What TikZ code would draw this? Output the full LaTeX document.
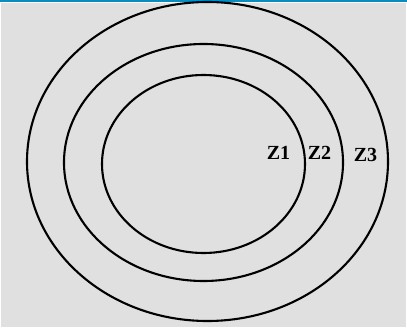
\documentclass[tikz,border=0pt]{standalone}
\usepackage{fontspec}
\setmainfont{Liberation Serif}
\usepackage{xcolor}
\usetikzlibrary{positioning}

\definecolor{panelgray}{RGB}{224,224,224}
\definecolor{barblue}{RGB}{10,140,192}

\begin{document}
\begin{tikzpicture}[
  x=1pt, y=1pt,
  zone/.style={draw=black, line width=2.1pt},
  zlabel/.style={font=\bfseries\fontsize{20}{20}\selectfont, inner sep=0pt}
]
\useasboundingbox (0,0) rectangle (407,327);
\fill[white] (0,0) rectangle (407,327);
\fill[panelgray] (1,0) rectangle (406,323.5);
\fill[barblue] (0,324.5) rectangle (407,327);

\draw[zone] (207.5,165.5) ellipse [x radius=180.5, y radius=159.5];
\draw[zone] (203.5,164.5) ellipse [x radius=139.5, y radius=118.5];
\draw[zone] (203.5,163) ellipse [x radius=101.5, y radius=89];

\node[zlabel] (z1) at (278.5,174) {Z1};
\node[zlabel] (z2) at (319.5,174) {Z2};
\node[zlabel] (z3) at (365.5,172.5) {Z3};
\end{tikzpicture}
\end{document}
